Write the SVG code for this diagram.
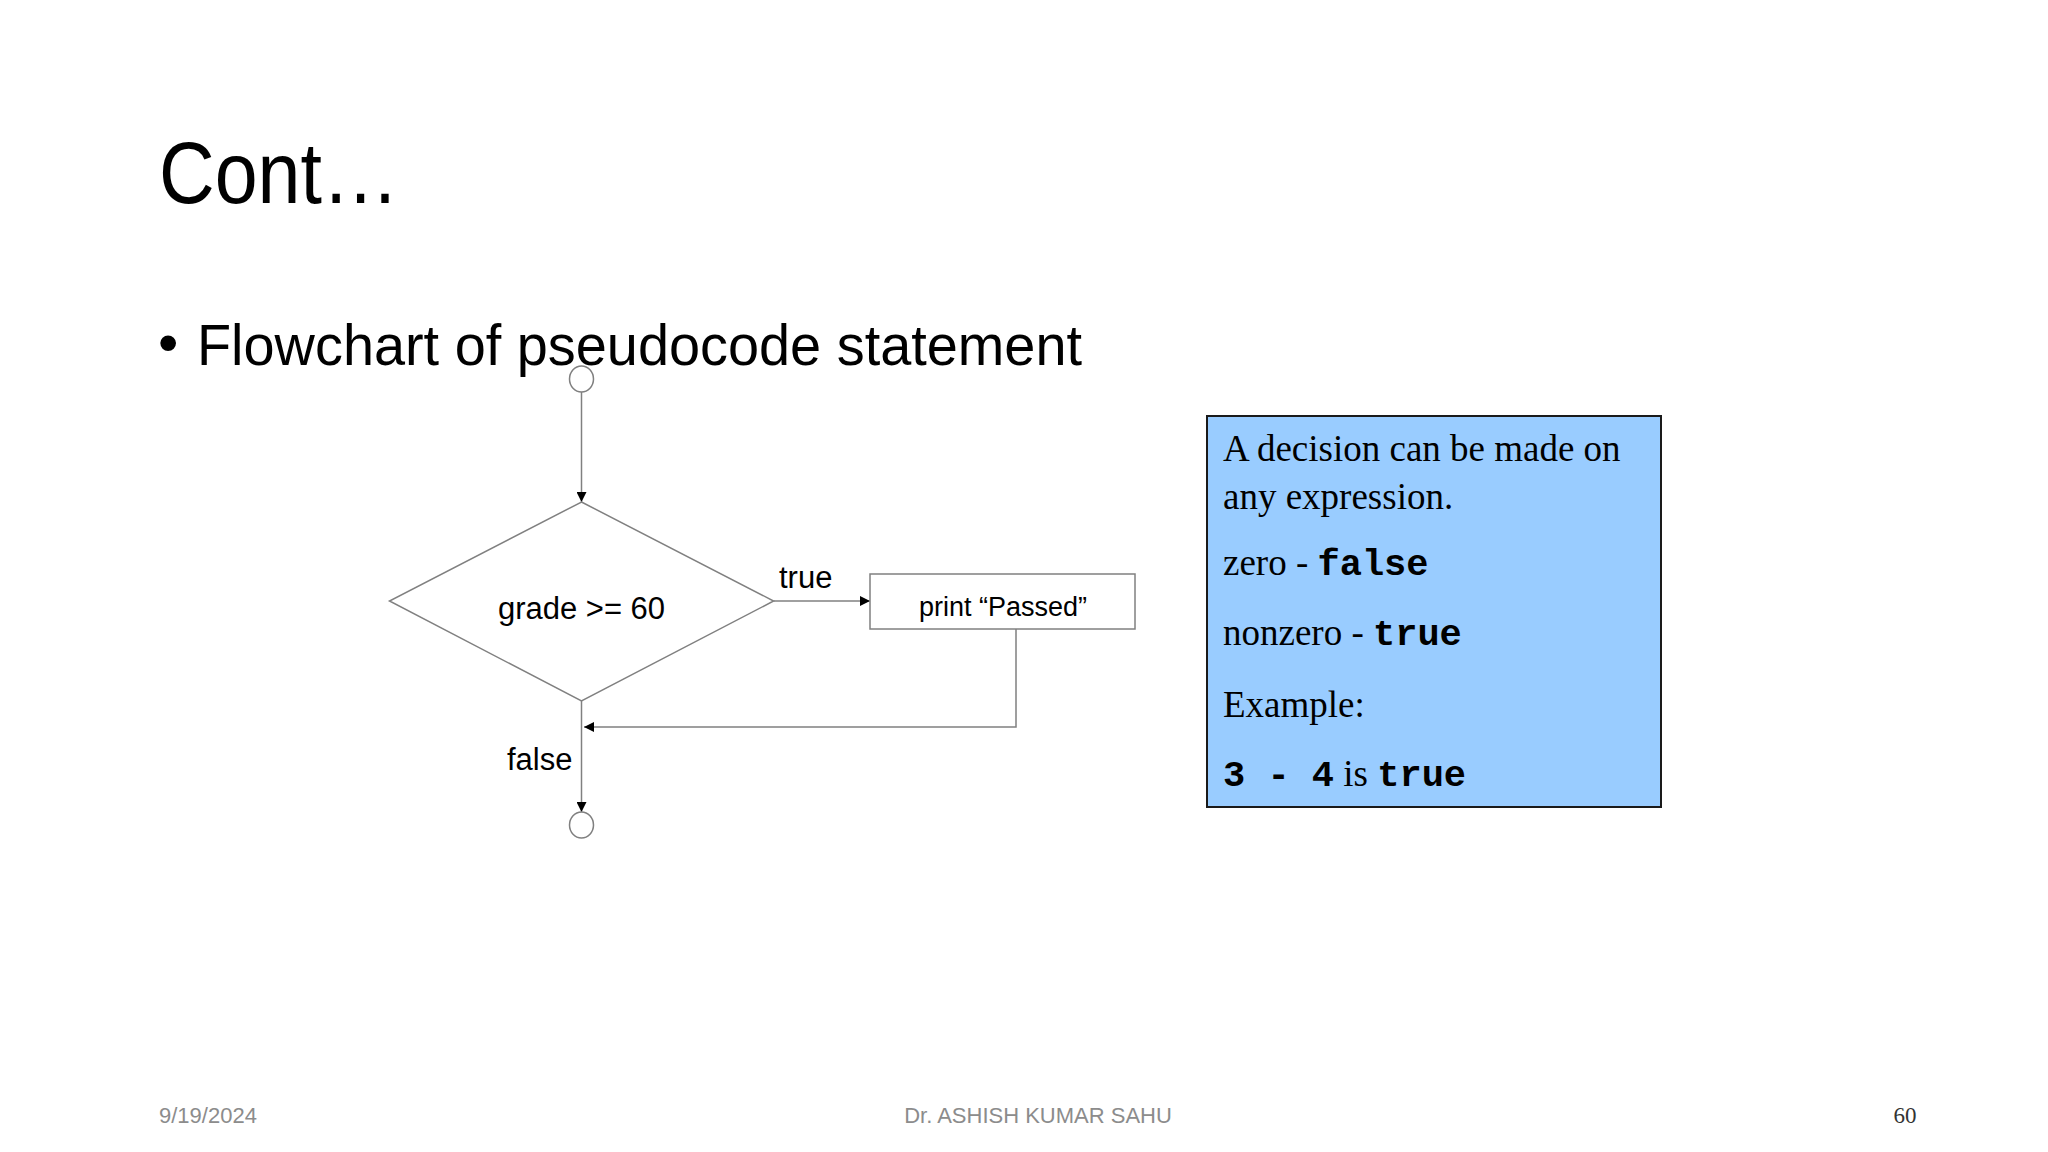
<svg xmlns="http://www.w3.org/2000/svg" width="2048" height="1152" viewBox="0 0 2048 1152">
<defs>
<marker id="ah" viewBox="0 0 10 10" refX="10" refY="5" markerWidth="10" markerHeight="10" markerUnits="userSpaceOnUse" orient="auto"><path d="M0,0L10,5L0,10z" fill="#000"/></marker>
<style>
.s{font-family:"Liberation Sans",Arial,sans-serif;fill:#000}
.ln{stroke:#808080;stroke-width:1.5;fill:none}
.t{font-family:"Liberation Serif","Times New Roman",serif;font-size:37px;fill:#000}
.m{font-family:"Liberation Mono","Courier New",monospace;font-weight:bold}
.f{font-family:"Liberation Sans",Arial,sans-serif;font-size:22px;fill:#8c8c8c}
</style>
</defs>
<rect width="2048" height="1152" fill="#fff"/>
<text class="s" x="159" y="203" font-size="88" textLength="240" lengthAdjust="spacingAndGlyphs">Cont…</text>
<text class="s" x="158" y="362" font-size="58">•</text>
<text class="s" x="197" y="365" font-size="58" textLength="885" lengthAdjust="spacingAndGlyphs">Flowchart of pseudocode statement</text>
<g id="connectors">
<line class="ln" x1="581.5" y1="392" x2="581.5" y2="502" marker-end="url(#ah)"/>
<line class="ln" x1="773.6" y1="601" x2="870" y2="601" marker-end="url(#ah)"/>
<polyline class="ln" points="1016,629 1016,727 584,727" marker-end="url(#ah)"/>
<line class="ln" x1="581.5" y1="701" x2="581.5" y2="812" marker-end="url(#ah)"/>
</g>
<g id="start"><ellipse class="ln" cx="581.5" cy="379" rx="12" ry="13" fill="#fff"/></g>
<g id="decision">
<polygon class="ln" points="581.5,502 773.6,601 581.5,701 389.5,601"/>
<text class="s" x="581.5" y="619" font-size="31" text-anchor="middle">grade &gt;= 60</text>
</g>
<g id="lbl-true"><text class="s" x="779" y="588" font-size="31">true</text></g>
<g id="lbl-false"><text class="s" x="507" y="770" font-size="31">false</text></g>
<g id="print">
<rect class="ln" x="870" y="574" width="265" height="55"/>
<text class="s" x="1003" y="616" font-size="27" text-anchor="middle">print “Passed”</text>
</g>
<g id="end"><ellipse class="ln" cx="581.5" cy="825" rx="12" ry="13" fill="#fff"/></g>
<g id="note">
<rect x="1207" y="416" width="454" height="391" fill="#99ccff" stroke="#1a1a1a" stroke-width="2"/>
<text class="t" x="1223" y="461">A decision can be made on</text>
<text class="t" x="1223" y="509">any expression.</text>
<text class="t" x="1223" y="575">zero - <tspan class="m">false</tspan></text>
<text class="t" x="1223" y="645">nonzero - <tspan class="m">true</tspan></text>
<text class="t" x="1223" y="717">Example:</text>
<text class="t" x="1223" y="786"><tspan class="m">3 - 4</tspan> is <tspan class="m">true</tspan></text>
</g>
<text class="f" x="159" y="1123">9/19/2024</text>
<text class="f" x="1038" y="1123" text-anchor="middle">Dr. ASHISH KUMAR SAHU</text>
<text x="1905" y="1123" text-anchor="middle" font-family="Liberation Serif,serif" font-size="23" fill="#333">60</text>
</svg>
